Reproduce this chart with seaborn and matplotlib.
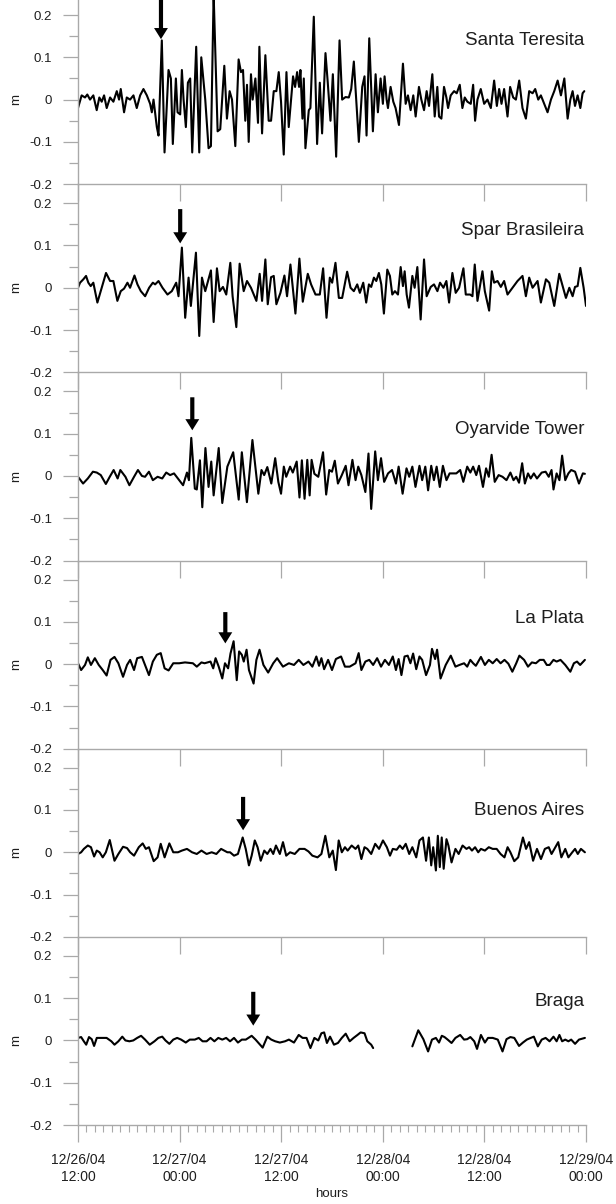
import numpy as np
import pandas as pd
import matplotlib
matplotlib.use("Agg")
import matplotlib.pyplot as plt
import seaborn as sns

# ---------------- data (hours since 12/26/04 12:00, sea level in m) ----------------
santa_t = [0.0,0.43,0.83,1.10,1.42,1.81,2.21,2.52,2.80,3.08,
           3.39,3.79,4.18,4.58,4.85,5.05,5.44,5.76,6.15,6.55,
           6.94,7.34,7.73,8.13,8.52,8.72,8.92,9.31,9.51,9.90,
           10.22,10.69,10.97,11.20,11.56,11.76,12.07,12.27,12.47,12.74,
           12.98,13.25,13.49,13.96,14.32,14.56,15.03,15.42,15.70,16.02,
           16.49,16.80,17.28,17.59,17.91,18.19,18.58,18.97,19.25,19.49,
           19.76,19.96,20.16,20.43,20.63,20.95,21.26,21.42,21.74,22.13,
           22.52,22.80,23.12,23.43,23.71,23.98,24.30,24.62,24.89,25.17,
           25.40,25.64,25.88,26.11,26.27,26.51,26.67,26.86,27.26,
           27.45,27.85,28.24,28.56,28.83,29.23,29.50,29.82,30.10,30.49,
           30.89,31.20,31.60,31.99,32.27,32.58,33.17,33.57,33.84,34.08,
           34.40,34.83,35.15,35.42,35.74,36.01,36.21,36.45,36.61,36.92,
           37.24,37.51,37.91,38.38,38.70,38.97,39.29,39.60,39.88,40.27,
           40.55,40.87,41.18,41.46,41.85,42.13,42.44,42.64,42.92,43.23,
           43.51,43.71,44.02,44.42,44.73,45.09,45.40,45.68,45.99,46.39,
           46.67,46.90,47.18,47.57,47.97,48.36,48.76,49.15,49.47,49.74,
           50.02,50.33,50.73,51.04,51.40,51.72,52.11,52.50,52.90,53.29,
           53.69,54.00,54.36,54.67,55.07,55.46,55.86,56.25,56.65,57.04,
           57.44,57.83,58.15,58.42,58.70,59.01,59.33,59.60,59.80]
santa_h = [-0.02,0.01,0.005,0.012,0.0,0.01,-0.025,0.005,-0.005,0.01,
           -0.02,0.005,-0.005,0.02,0.0,0.025,-0.03,0.005,0.0,0.01,
           -0.02,0.01,0.025,0.01,-0.01,-0.03,0.0,-0.065,-0.085,0.14,
           -0.125,0.07,0.05,-0.105,0.05,-0.03,-0.035,0.07,0.0,-0.065,
           0.04,0.05,-0.125,0.125,-0.125,0.1,0.0,-0.115,-0.11,0.25,
           -0.075,-0.07,0.08,-0.045,0.02,0.0,-0.11,0.095,0.065,0.07,
           -0.05,0.035,-0.1,0.06,0.0,0.05,-0.055,0.125,-0.08,0.105,
           -0.05,-0.05,0.02,0.02,0.065,-0.005,-0.13,0.065,-0.065,0.0,
           0.055,0.03,0.065,0.03,0.07,-0.045,0.05,-0.115,-0.025,
           -0.02,0.196,-0.105,0.04,-0.08,0.11,0.04,-0.05,0.06,-0.135,
           0.14,0.0,0.006,0.005,0.025,0.09,-0.1,0.03,0.055,-0.085,
           0.145,-0.075,0.06,-0.03,0.05,-0.01,0.055,0.0,-0.02,0.03,
           -0.005,-0.02,-0.06,0.085,-0.01,0.01,-0.025,0.01,-0.04,0.03,
           0.0,-0.025,0.02,-0.015,0.06,-0.04,0.03,-0.04,-0.045,0.03,
           0.005,-0.02,0.01,0.02,0.015,0.035,-0.02,0.005,-0.005,-0.01,
           0.035,-0.05,0.0,0.025,-0.01,0.0,-0.02,0.045,-0.015,0.025,
           -0.01,0.025,-0.04,0.03,0.005,0.0,0.045,-0.02,-0.045,0.02,
           0.015,0.025,0.0,0.01,-0.01,-0.03,0.0,0.02,0.045,0.01,
           0.05,-0.045,0.0,0.02,-0.015,0.01,-0.02,0.015,0.02]

spar_t = [0.0,0.24,0.63,0.95,1.22,1.50,1.81,2.29,2.80,3.31,
          3.79,4.18,4.65,5.05,5.44,5.84,6.15,6.67,7.02,7.42,
          7.93,8.40,8.84,9.11,9.51,9.98,10.57,11.08,11.60,11.87,
          12.27,12.66,13.06,13.33,13.93,14.32,14.64,15.03,15.70,16.02,
          16.41,16.73,17.12,17.51,17.99,18.26,18.70,19.09,19.57,19.96,
          20.43,21.07,21.46,21.74,22.13,22.41,22.80,23.12,23.43,23.91,
          24.38,24.69,25.09,25.68,26.15,26.55,27.14,27.53,28.05,
          28.56,28.95,29.35,29.74,30.02,30.41,30.81,31.20,31.79,32.19,
          32.58,32.98,33.29,33.69,34.04,34.36,34.63,34.95,35.23,35.54,
          35.82,36.13,36.53,36.84,37.12,37.43,37.79,38.11,38.38,38.58,
          38.82,39.09,39.49,39.76,40.08,40.47,40.87,41.18,41.66,42.05,
          42.45,42.76,43.16,43.51,43.83,44.22,44.61,45.01,45.52,45.80,
          46.31,46.59,46.86,47.18,47.57,47.77,48.05,48.56,48.88,49.15,
          49.55,49.94,50.33,50.73,51.32,51.91,52.50,52.90,53.29,53.69,
          54.28,54.67,55.27,55.66,56.25,56.84,57.24,57.63,58.03,58.42,
          58.70,59.01,59.33,59.72,60.0]
spar_h = [0.0,0.012,0.02,0.028,0.012,0.004,0.012,-0.035,0.0,0.035,
          0.016,0.016,-0.031,-0.008,-0.002,0.012,0.0,0.029,0.008,-0.008,
          -0.02,0.0,0.012,0.008,0.016,0.0,-0.016,-0.008,0.012,-0.02,
          0.095,-0.071,0.024,-0.043,0.083,-0.114,0.024,-0.008,0.041,-0.081,
          0.046,-0.008,0.002,-0.016,0.059,-0.02,-0.093,0.057,-0.008,0.016,
          0.0,-0.031,0.033,-0.031,0.067,-0.039,0.025,0.028,-0.039,-0.012,
          0.029,-0.02,0.055,-0.061,0.069,-0.033,0.033,0.008,-0.016,
          -0.016,0.046,-0.071,0.024,0.012,0.059,-0.024,-0.024,0.038,0.0,
          -0.008,0.008,-0.012,0.012,-0.035,0.008,0.002,0.024,0.016,0.035,
          0.008,-0.061,0.043,0.028,-0.016,-0.008,-0.016,0.049,0.004,0.039,
          -0.016,-0.047,0.028,0.0,0.049,-0.075,0.067,-0.02,0.002,0.008,
          -0.008,0.012,0.0,0.016,-0.035,0.035,-0.012,0.0,0.046,-0.016,
          -0.016,-0.02,0.055,-0.031,0.016,0.039,-0.008,-0.054,0.039,0.012,
          0.016,0.002,0.016,-0.016,0.0,0.016,0.028,-0.02,0.024,0.0,
          0.016,-0.035,0.02,0.012,-0.043,0.033,0.004,-0.024,0.0,-0.02,
          0.002,0.004,0.047,0.0,-0.043]

oyar_t = [0.0,0.60,1.16,1.76,2.22,2.69,3.29,3.75,4.21,4.68,
          5.00,5.60,6.07,6.62,7.08,7.55,7.92,8.38,8.84,9.40,
          9.95,10.42,10.88,11.34,11.95,12.41,12.87,13.10,13.38,13.80,
          14.03,14.40,14.68,15.05,15.42,15.74,16.02,16.62,17.04,17.64,
          18.33,18.98,19.35,19.95,20.60,21.30,21.67,21.99,22.36,22.83,
          23.29,23.66,23.98,24.31,24.59,25.05,25.37,25.83,26.16,26.44,
          26.76,27.08,27.36,27.59,27.92,28.38,28.94,29.31,29.68,30.00,
          30.33,30.70,31.16,31.62,31.95,32.41,32.78,33.10,33.47,33.94,
          34.31,34.63,35.10,35.42,35.79,36.16,36.62,37.09,37.55,37.87,
          38.34,38.80,39.12,39.49,39.86,40.33,40.65,41.02,41.35,41.72,
          42.04,42.36,42.73,43.10,43.52,43.89,44.35,44.68,45.14,45.51,
          45.97,46.34,46.67,47.04,47.36,47.83,48.20,48.52,48.85,49.22,
          49.68,50.14,50.61,51.07,51.44,51.76,52.09,52.46,52.78,53.15,
          53.47,53.84,54.21,54.77,55.23,55.60,55.93,56.16,56.53,56.86,
          57.18,57.55,57.92,58.25,58.71,59.17,59.63,59.87]
oyar_h = [-0.002,-0.018,-0.006,0.01,0.008,0.002,-0.019,-0.002,0.014,-0.006,
          0.014,-0.002,-0.022,-0.002,0.014,0.0,-0.002,0.01,-0.01,-0.002,
          -0.006,0.008,0.002,0.006,-0.01,-0.022,0.008,-0.01,0.09,-0.03,
          -0.032,0.037,-0.074,0.066,-0.026,0.034,-0.046,0.066,-0.064,0.022,
          0.056,-0.056,0.056,-0.062,0.085,-0.042,0.014,0.002,0.021,-0.018,
          0.042,-0.014,-0.042,0.022,-0.002,0.022,0.008,0.034,-0.051,0.037,
          -0.054,0.038,-0.046,0.038,0.005,-0.002,0.056,-0.044,0.014,0.01,
          0.036,-0.018,0.002,0.024,-0.022,0.038,-0.01,0.022,0.002,-0.038,
          0.053,-0.078,0.058,-0.01,0.042,-0.014,0.006,0.014,-0.018,0.022,
          -0.042,0.018,-0.002,0.022,-0.026,0.024,-0.01,0.022,-0.034,0.024,
          -0.01,0.022,-0.026,0.024,-0.01,0.006,0.006,0.006,0.014,-0.014,
          0.022,0.008,0.022,0.002,0.024,-0.026,0.018,-0.002,0.05,-0.014,
          0.002,-0.002,-0.01,0.008,-0.01,-0.002,-0.016,0.03,-0.018,0.006,
          -0.006,0.006,-0.006,0.008,0.01,-0.002,0.014,-0.032,0.006,-0.01,
          0.048,-0.01,0.006,0.014,0.01,-0.018,0.006,0.005]

plata_t = [0.0,0.37,0.83,1.16,1.53,1.99,2.45,2.92,3.38,3.84,
           4.31,4.77,5.32,5.79,6.16,6.62,6.99,7.55,7.92,8.38,
           8.84,9.31,9.77,10.23,10.70,11.25,11.95,12.64,13.57,14.03,
           14.58,14.95,15.65,15.97,16.25,16.62,17.04,17.36,17.73,18.01,
           18.38,18.75,19.03,19.35,19.58,19.91,20.19,20.74,21.07,21.44,
           21.90,22.46,23.06,23.52,24.21,24.91,25.51,26.07,26.62,27.22,
           27.68,28.15,28.47,28.75,29.07,29.54,30.00,30.46,31.07,31.53,
           32.09,32.78,33.15,33.47,33.94,34.40,34.86,35.33,35.79,36.25,
           36.72,37.18,37.55,37.87,38.20,38.57,38.94,39.26,39.58,39.95,
           40.33,40.65,41.11,41.57,41.81,42.18,42.41,42.82,43.43,44.03,
           44.58,45.05,45.60,45.97,46.34,46.67,46.99,47.59,48.06,48.52,
           48.98,49.45,49.91,50.37,50.83,51.30,51.76,52.13,52.69,53.15,
           53.61,54.08,54.54,55.00,55.37,55.70,56.16,56.53,56.99,57.55,
           58.15,58.57,58.94,59.31,59.87]
plata_h = [0.002,-0.014,-0.002,0.016,-0.002,0.014,-0.002,-0.014,-0.027,0.01,
           0.017,0.002,-0.03,-0.002,0.01,-0.014,0.014,0.017,-0.002,-0.026,
           0.006,0.022,0.026,-0.01,-0.015,0.002,0.002,0.004,0.002,-0.006,
           0.004,0.002,0.006,-0.01,0.014,-0.006,-0.034,0.002,-0.01,0.025,
           0.054,-0.038,0.03,0.022,0.006,0.034,-0.014,-0.046,0.01,0.034,
           -0.002,-0.02,0.002,0.014,-0.006,0.002,-0.002,0.01,-0.002,0.006,
           -0.006,0.018,-0.004,0.014,-0.012,0.01,-0.014,0.012,0.018,-0.006,
           -0.006,0.002,0.026,-0.014,0.006,0.01,-0.002,0.014,-0.006,0.01,
           -0.002,0.018,-0.014,0.012,-0.026,0.018,0.02,0.002,0.025,-0.012,
           0.018,0.01,-0.026,-0.002,0.036,0.012,0.034,-0.034,-0.002,0.02,
           -0.006,-0.002,0.002,-0.006,0.01,0.002,-0.004,0.017,-0.002,0.01,
           0.002,0.012,0.002,0.01,0.001,-0.018,0.002,0.02,0.01,-0.006,
           0.004,0.002,0.01,0.01,-0.002,-0.002,0.01,0.006,0.01,-0.002,
           -0.018,0.002,0.006,-0.002,0.01]

baires_t = [0.0,0.37,0.69,1.16,1.53,1.90,2.22,2.55,2.92,3.29,
            3.75,4.31,4.77,5.32,5.79,6.16,6.62,7.18,7.64,8.01,
            8.38,8.94,9.40,9.77,10.23,10.79,11.25,11.81,12.27,12.87,
            13.47,14.03,14.58,15.19,15.79,16.34,16.90,17.27,17.64,17.96,
            18.43,18.89,19.45,19.81,20.19,20.51,20.88,21.21,21.58,22.00,
            22.36,22.73,23.06,23.38,23.84,24.21,24.59,25.05,25.60,26.16,
            26.76,27.22,27.68,28.29,28.75,29.21,29.68,30.09,30.46,30.79,
            31.16,31.53,31.85,32.32,32.78,33.10,33.47,33.84,34.17,34.63,
            35.10,35.56,36.02,36.48,36.85,37.18,37.64,38.01,38.34,38.71,
            39.12,39.49,39.95,40.33,40.74,41.11,41.44,41.72,41.95,42.27,
            42.50,42.73,42.96,43.19,43.52,43.75,44.12,44.58,44.96,45.42,
            45.88,46.20,46.53,46.90,47.27,47.59,48.06,48.52,48.98,49.45,
            49.91,50.37,50.74,51.07,51.53,51.99,52.55,52.92,53.29,53.75,
            54.21,54.68,55.14,55.60,55.93,56.39,56.72,57.09,57.55,57.92,
            58.38,58.71,59.03,59.40,59.87]
baires_h = [-0.004,0.0,0.008,0.016,0.012,-0.01,0.004,0.0,-0.012,0.0,
            0.029,-0.02,-0.004,0.013,0.01,0.0,-0.008,0.012,0.021,0.008,
            0.012,-0.021,-0.012,0.02,-0.012,0.021,0.0,0.0,0.004,0.008,
            0.0,-0.004,0.004,-0.004,0.0,-0.004,0.008,0.004,0.0,0.0,
            -0.008,-0.004,0.035,0.008,-0.031,-0.008,0.028,0.012,-0.02,0.004,
            -0.004,0.008,-0.004,0.016,-0.004,0.024,-0.008,0.0,-0.004,0.008,
            0.008,0.002,-0.008,-0.012,-0.004,0.039,-0.012,0.004,-0.042,0.028,
            0.0,0.012,0.004,0.016,0.008,0.016,-0.016,0.012,0.008,-0.004,
            0.02,0.008,0.028,0.012,-0.008,0.008,0.006,0.016,0.008,0.02,
            -0.004,0.012,-0.012,0.028,0.035,-0.02,0.035,-0.031,0.012,-0.043,
            0.039,-0.035,0.035,-0.039,0.031,0.016,-0.024,0.008,-0.004,0.016,
            0.008,0.012,0.004,0.012,0.0,0.008,0.004,0.012,0.008,0.008,
            -0.004,-0.012,0.012,0.0,-0.021,-0.012,0.035,0.008,0.024,-0.02,
            0.008,-0.016,0.008,0.012,-0.004,0.012,0.024,-0.012,0.008,-0.012,
            0.0,0.008,-0.004,0.008,0.0]

# Braga has a gap in the record, so it is kept as two segments
braga1_t = [0.0,0.37,0.69,0.97,1.30,1.62,1.90,2.22,2.69,3.38,
            3.94,4.31,4.77,5.23,5.60,6.07,6.53,6.99,7.45,7.92,
            8.47,9.03,9.49,9.95,10.33,10.79,11.25,11.71,12.18,12.73,
            13.20,13.80,14.26,14.72,15.19,15.65,16.11,16.57,17.04,17.50,
            17.96,18.43,18.89,19.35,19.82,20.51,20.97,21.81,22.36,22.83,
            23.29,23.84,24.45,24.91,25.51,26.07,26.53,26.99,27.45,27.92,
            28.38,28.75,29.07,29.40,29.77,30.23,30.70,31.16,31.62,32.09,
            32.55,33.01,33.38,33.84,34.17,34.63,34.86]
braga1_h = [0.006,0.008,-0.002,-0.01,0.008,0.003,-0.013,0.006,0.006,0.006,
            -0.002,-0.01,-0.002,0.009,0.0,-0.002,0.0,0.006,0.011,0.002,
            -0.01,-0.002,0.006,0.009,0.0,-0.008,0.002,0.006,0.002,-0.005,
            0.002,0.002,0.006,-0.002,-0.002,0.006,-0.002,0.006,0.002,0.006,
            -0.002,0.006,-0.005,0.002,0.002,0.011,0.002,-0.017,0.009,0.002,
            -0.002,-0.005,-0.002,0.002,-0.005,0.013,0.006,0.006,-0.018,0.006,
            0.0,0.017,0.019,-0.006,0.009,-0.01,-0.006,0.006,0.016,-0.002,
            0.006,0.013,0.019,0.017,-0.002,-0.01,-0.018]
braga2_t = [39.49,40.19,40.79,41.35,41.81,42.27,42.64,42.97,43.29,43.66,
            44.12,44.58,45.14,45.60,45.97,46.34,46.80,47.13,47.59,48.06,
            48.43,48.98,49.58,50.14,50.61,51.07,51.53,52.09,52.55,53.01,
            53.47,53.84,54.31,54.77,55.23,55.70,56.16,56.53,56.86,57.18,
            57.55,57.92,58.25,58.71,59.17,59.87]
braga2_h = [-0.014,0.024,0.003,-0.026,0.002,0.006,-0.005,0.011,0.008,0.002,
            -0.006,0.006,0.013,0.002,0.003,0.008,-0.002,-0.02,0.013,-0.005,
            0.006,0.006,0.002,-0.026,0.003,0.008,0.006,-0.013,-0.005,0.002,
            0.006,0.009,-0.014,0.002,0.006,-0.002,0.009,-0.002,0.013,-0.002,
            0.002,-0.002,0.002,-0.008,0.002,0.006]

stations = ["Santa Teresita", "Spar Brasileira", "Oyarvide Tower",
            "La Plata", "Buenos Aires", "Braga"]
arrow_hours = [9.8, 12.07, 13.5, 17.4, 19.5, 20.7]
arrow_tip = [0.143, 0.105, 0.108, 0.049, 0.052, 0.035]
arrow_tail = [0.26, 0.186, 0.186, 0.123, 0.131, 0.115]
label_y = [0.14, 0.136, 0.11, 0.108, 0.098, 0.093]

xtick_hours = [0, 12, 24, 36, 48, 60]
xtick_labels = ["12/26/04\n12:00", "12/27/04\n00:00", "12/27/04\n12:00",
                "12/28/04\n00:00", "12/28/04\n12:00", "12/29/04\n00:00"]
ytick_values = [-0.2, -0.1, 0.0, 0.1, 0.2]
ytick_labels = ["-0.2", "-0.1", "0", "0.1", "0.2"]
yminor_values = [-0.15, -0.05, 0.05, 0.15]

# ---------------- tidy table ----------------
pieces = [
    ("Santa Teresita", 0, santa_t, santa_h),
    ("Spar Brasileira", 0, spar_t, spar_h),
    ("Oyarvide Tower", 0, oyar_t, oyar_h),
    ("La Plata", 0, plata_t, plata_h),
    ("Buenos Aires", 0, baires_t, baires_h),
    ("Braga", 0, braga1_t, braga1_h),
    ("Braga", 1, braga2_t, braga2_h),
]
frames = []
for name, seg, t, h in pieces:
    assert len(t) == len(h), (name, seg, len(t), len(h))
    frames.append(pd.DataFrame({"station": name, "segment": seg,
                                "hours": t, "height": h}))
df = pd.concat(frames, ignore_index=True)

# ---------------- style ----------------
sns.set_theme(style="ticks")
plt.rcParams["font.family"] = ["Liberation Sans", "DejaVu Sans"]
GRAY = "#a9a9a9"
TXT = "#1e1e1e"

W, H = 616, 1204
fig = plt.figure(figsize=(W / 100, H / 100), dpi=100)

left_px, right_px = 78, 586
top0_px, panel_px = -4.0, 188.17

for i, name in enumerate(stations):
    top = top0_px + i * panel_px
    ax = fig.add_axes([left_px / W, 1 - (top + panel_px) / H,
                       (right_px - left_px) / W, panel_px / H])
    ax.patch.set_visible(False)
    sub = df[df["station"] == name]
    sns.lineplot(data=sub, x="hours", y="height", units="segment",
                 estimator=None, sort=False, color="black", lw=1.5,
                 ax=ax, legend=False)

    ax.set_xlim(0, 60)
    ax.set_ylim(-0.2, 0.245)

    for s in ("top", "right"):
        ax.spines[s].set_visible(False)
    for s in ("left", "bottom"):
        ax.spines[s].set_color(GRAY)
        ax.spines[s].set_linewidth(1.0)

    ax.set_yticks(ytick_values, labels=ytick_labels)
    ax.set_yticks(yminor_values, minor=True)
    ax.tick_params(axis="y", which="major", direction="out", length=11,
                   width=0.9, color=GRAY, pad=7.5, labelsize=9.5,
                   labelcolor=TXT)
    ax.tick_params(axis="y", which="minor", direction="out", length=6.5,
                   width=0.9, color=GRAY)

    ax.set_xticks(xtick_hours)
    ax.tick_params(axis="x", which="major", direction="out", length=12.5,
                   width=0.9, color=GRAY)
    if i == len(stations) - 1:
        ax.set_xticks(xtick_hours, labels=xtick_labels)
        ax.set_xticks(np.arange(0, 61, 1), minor=True)
        ax.tick_params(axis="x", which="minor", direction="out", length=5,
                       width=0.8, color=GRAY)
        ax.tick_params(axis="x", which="major", labelsize=10,
                       labelcolor=TXT, pad=8)
        for lab in ax.get_xticklabels():
            lab.set_linespacing(1.25)
        ax.set_xlabel("hours", fontsize=9.5, color=TXT, labelpad=3)
    else:
        ax.tick_params(axis="x", labelbottom=False)
        ax.set_xlabel("")

    ax.set_ylabel("m", fontsize=9.5, color=TXT, va="center")
    ax.yaxis.set_label_coords(-0.122, 0.449)

    ax.text(59.8, label_y[i], name, ha="right", va="center",
            fontsize=13.5, color=TXT)

    ax.annotate("", xy=(arrow_hours[i], arrow_tip[i]),
                xytext=(arrow_hours[i], arrow_tail[i]),
                arrowprops=dict(facecolor="black", edgecolor="none",
                                width=3.0, headwidth=10, headlength=8,
                                shrink=0.0),
                annotation_clip=False)

fig.savefig("out.png", dpi=100)
